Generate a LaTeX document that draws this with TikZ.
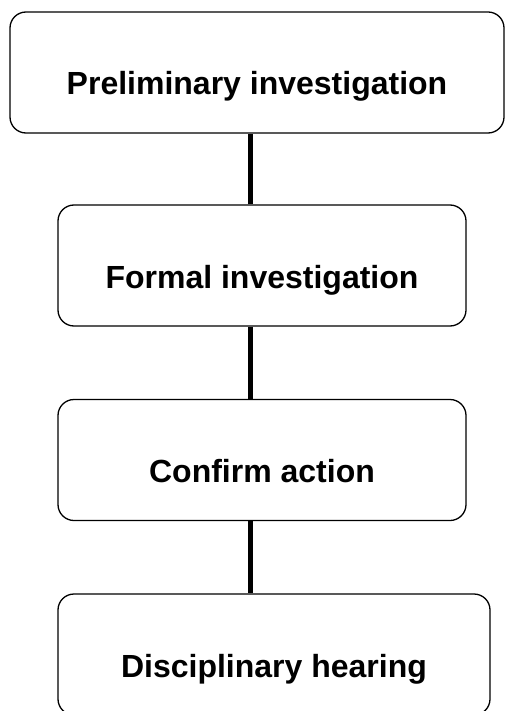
\documentclass[tikz,border=0pt]{standalone}
\usepackage{fontspec}
\setmainfont{Liberation Sans}
\usetikzlibrary{positioning,calc}
\tikzset{
  stage/.style = {draw, rectangle, rounded corners=16pt, line width=1.3pt,
                  minimum height=121pt, inner sep=0pt,
                  text height=52pt, text depth=7pt,
                  font=\fontsize{32}{38}\selectfont\bfseries},
  link/.style  = {line width=5pt}
}

\begin{document}
\begin{tikzpicture}
  \useasboundingbox (0,0) rectangle (507pt,-711pt);
  \node[stage, minimum width=494pt] (prelim)  at (257pt,-72.5pt) {Preliminary investigation};
  \node[stage, minimum width=408pt] (formal)  at (262pt,-265.5pt) {Formal investigation};
  \node[stage, minimum width=408pt] (confirm) at (262pt,-460pt) {Confirm action};
  \node[stage, minimum width=432pt] (hearing) at (274pt,-654.5pt) {Disciplinary hearing};
  % connectors sit a bit left of the box centres
  \draw[link] ([xshift=-12pt]formal.north) -- ([xshift=-12pt]formal.north |- prelim.south);
  \draw[link] ([xshift=-12pt]formal.south) -- ([xshift=-12pt]formal.south |- confirm.north);
  \draw[link] ([xshift=-12pt]confirm.south) -- ([xshift=-12pt]confirm.south |- hearing.north);
\end{tikzpicture}
\end{document}
